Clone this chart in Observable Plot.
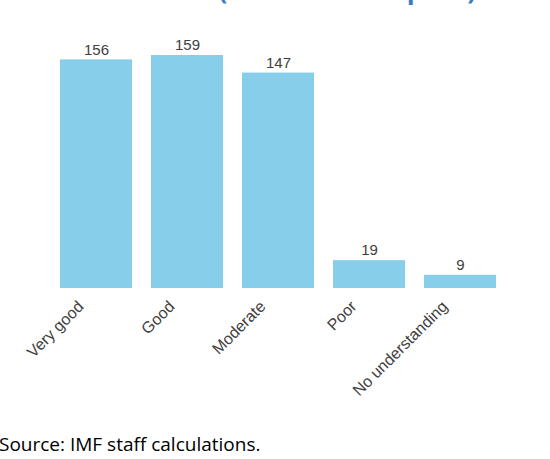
<!DOCTYPE html>
<html>
<head>
<meta charset="utf-8">
<script src="https://cdn.jsdelivr.net/npm/d3@7"></script>
<script src="https://cdn.jsdelivr.net/npm/@observablehq/plot@0.6"></script>
<style>
  html, body { margin: 0; padding: 0; background: #fff; }
  body { width: 550px; height: 459px; overflow: hidden; }
  #title {
    font-family: "Open Sans", sans-serif; font-weight: 700; font-size: 26px;
    line-height: 30px; color: #3f7cbf; text-align: center;
    margin-top: -26px; padding-left: 16px; white-space: nowrap; height: 30px;
  }
  #caption {
    font-family: "Open Sans", sans-serif; font-size: 19px; line-height: 24px;
    color: #000; margin-top: 28px; margin-left: -1px;
  }
</style>
</head>
<body>
<div id="title">Guidance (Number of Replies)</div>
<div id="chart"></div>
<div id="caption">Source: IMF staff calculations.</div>
<script>
const categories = ["Very good", "Good", "Moderate", "Poor", "No understanding"];
const replies = [156, 159, 147, 19, 9];

const data = categories.map((c, i) => ({category: c, value: replies[i]}));

const chart = Plot.plot({
  width: 550,
  height: 400,
  marginLeft: 38,
  marginRight: 33,
  marginTop: 51,
  marginBottom: 116,
  style: {fontFamily: "Liberation Sans, Arial, sans-serif", background: "white"},
  x: {domain: categories, padding: 0.21, axis: null},
  y: {domain: [0, 159], axis: null},
  marks: [
    Plot.barY(data, {x: "category", y: "value", fill: "#87CEEB"}),
    Plot.text(data, {
      x: "category", y: "value", text: d => String(d.value),
      dy: -10, fontSize: 15, fill: "#404040"
    }),
    Plot.text(categories, {
      x: d => d, frameAnchor: "bottom", text: d => d,
      rotate: -45, textAnchor: "end", lineAnchor: "top",
      dx: -20, dy: 11, fontSize: 16, fill: "#404040"
    })
  ]
});
document.getElementById("chart").appendChild(chart);
</script>
</body>
</html>
